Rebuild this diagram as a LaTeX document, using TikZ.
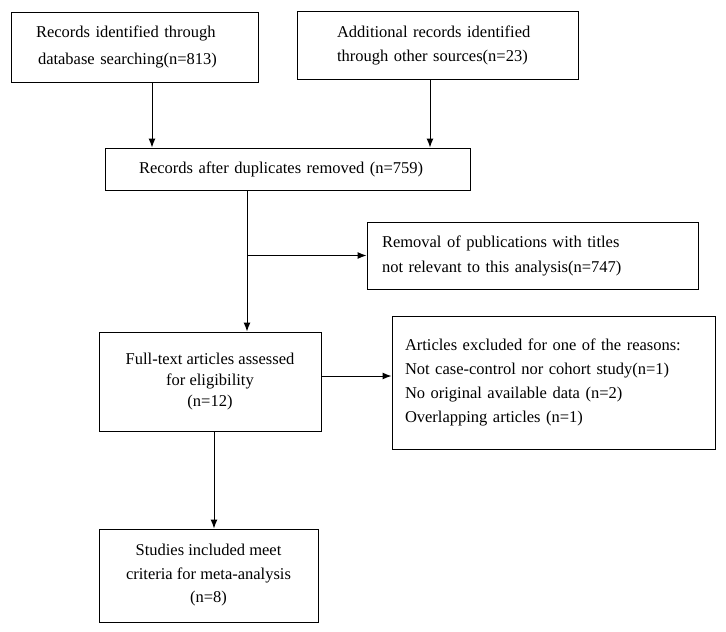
\documentclass[tikz,border=0pt]{standalone}
\usepackage{fontspec}
\setmainfont{Liberation Serif}
\usetikzlibrary{arrows.meta}

\tikzset{
  box/.style={draw, rectangle, line width=1pt, inner sep=0pt, align=center, font=\fontsize{16.5}{20}\selectfont},
  leftbox/.style={box, align=left, inner ysep=0pt},
  flow/.style={-{Latex[length=9pt,width=7pt]}, line width=1pt}
}

\begin{document}
\begin{tikzpicture}[x=1pt, y=-1pt]
\useasboundingbox (0,0) rectangle (726,632);
\node[leftbox, text width=197pt, inner xsep=25pt, minimum height=70pt] (ident) at (134.5,47) {Records identified through\\[7pt]\hspace*{2pt}database searching(n=813)};
\node[leftbox, text width=201pt, inner xsep=40pt, minimum height=68pt] (other) at (437.5,45) {Additional records identified\\[4pt]through other sources(n=23)};
\node[leftbox, text width=297pt, inner xsep=34pt, minimum height=42pt] (dup) at (287.5,169) {Records after duplicates removed (n=759)};
\node[leftbox, text width=301pt, inner xsep=15pt, minimum height=67pt] (remv) at (532.5,255.5) {Removal of publications with titles\\[5pt]not relevant to this analysis(n=747)};
\node[box, minimum width=222pt, minimum height=99pt] (full) at (210,381.5) {Full-text articles assessed\\[1pt]for eligibility\\[1pt](n=12)};
\node[leftbox, text width=297pt, inner xsep=13pt, minimum height=133pt] (excl) at (553.5,382.5) {Articles excluded for one of the reasons:\\[4pt]Not case-control nor cohort study(n=1)\\[4pt]No original available data (n=2)\\[4pt]Overlapping articles (n=1)\\[6pt]};
\node[box, minimum width=219pt, minimum height=93pt] (incl) at (208.5,575.5) {Studies included meet\\[3.5pt]criteria for meta-analysis\\[3.5pt](n=8)};
% arrows
\coordinate (a1) at ([xshift=17.5pt]ident.south);
\coordinate (b1) at ([xshift=-7.5pt]other.south);
\coordinate (c1) at ([xshift=-40.5pt]dup.south);
\coordinate (e1) at ([yshift=5.5pt]full.east);
\coordinate (e2) at ([xshift=4pt]full.south);
\draw[flow] (a1) -- (a1 |- dup.north);
\draw[flow] (b1) -- (b1 |- dup.north);
\draw[flow] (c1) -- (c1 |- full.north);
\draw[flow] (c1 |- remv.west) -- (remv.west);
\draw[flow] (e1) -- (e1 -| excl.west);
\draw[flow] (e2) -- (e2 |- incl.north);
\end{tikzpicture}
\end{document}
